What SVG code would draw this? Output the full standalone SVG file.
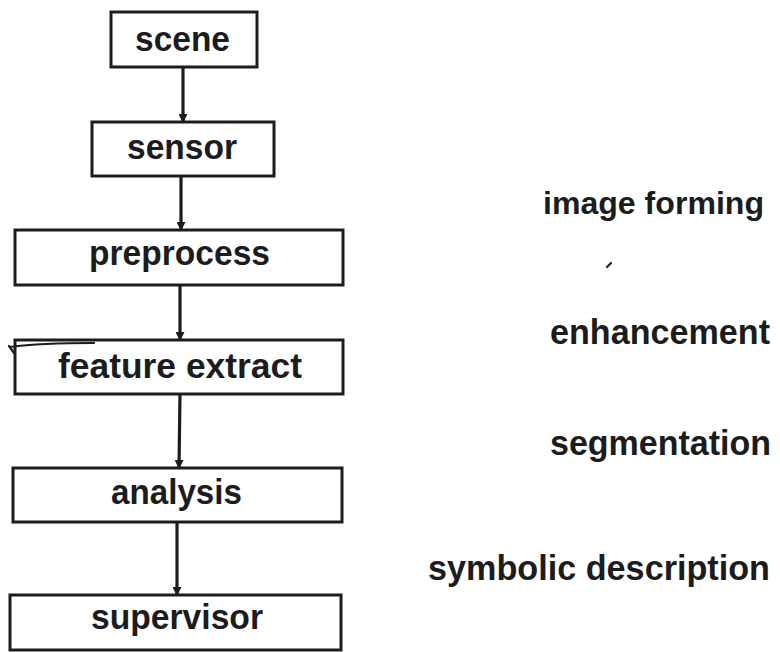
<svg xmlns="http://www.w3.org/2000/svg" width="780" height="652" viewBox="0 0 780 652">
  <style>
    .box { fill: #ffffff; stroke: #1c1c1c; stroke-width: 3; }
    .lbl { font-family: "Liberation Sans", Arial, sans-serif; font-weight: bold; font-size: 35px; fill: #1c1c1c; }
    .stage { font-family: "Liberation Sans", Arial, sans-serif; font-weight: bold; font-size: 35px; fill: #1c1c1c; }
    .flow { stroke: #1c1c1c; stroke-width: 3.2; fill: none; marker-end: url(#arrow); }
    .mark { stroke: #1c1c1c; stroke-width: 2.2; fill: none; stroke-linecap: round; }
  </style>
  <defs>
    <marker id="arrow" markerWidth="9" markerHeight="9" refX="8" refY="4.5" orient="auto" markerUnits="userSpaceOnUse">
      <path d="M0,0 L9,4.5 L0,9 Z" fill="#1c1c1c"/>
    </marker>
  </defs>
  <rect width="780" height="652" fill="#ffffff"/>

  <!-- processing chain -->
  <g id="scene">
    <rect class="box" x="111" y="12" width="146" height="55"/>
    <text class="lbl" x="135" y="51" textLength="95" lengthAdjust="spacingAndGlyphs">scene</text>
  </g>
  <g id="sensor">
    <rect class="box" x="92" y="122" width="182" height="54"/>
    <text class="lbl" x="127" y="159" textLength="110" lengthAdjust="spacingAndGlyphs">sensor</text>
  </g>
  <g id="preprocess">
    <rect class="box" x="15" y="230" width="328" height="55"/>
    <text class="lbl" x="89" y="265" textLength="181" lengthAdjust="spacingAndGlyphs">preprocess</text>
  </g>
  <g id="feature-extract">
    <rect class="box" x="15" y="340" width="328" height="54"/>
    <text class="lbl" x="58" y="378" textLength="244" lengthAdjust="spacingAndGlyphs">feature extract</text>
    <path class="mark" d="M14,353 L9,346 M10,347 Q40,343 94,343"/>
  </g>
  <g id="analysis">
    <rect class="box" x="13" y="468" width="329" height="54"/>
    <text class="lbl" x="111" y="504" textLength="131" lengthAdjust="spacingAndGlyphs">analysis</text>
  </g>
  <g id="supervisor">
    <rect class="box" x="10" y="595" width="331" height="55"/>
    <text class="lbl" x="91" y="629" textLength="172" lengthAdjust="spacingAndGlyphs">supervisor</text>
  </g>

  <!-- stage names -->
  <g id="stages">
    <text class="stage" x="543" y="214" font-size="32" textLength="221" lengthAdjust="spacingAndGlyphs" style="font-size:32px">image forming</text>
    <text class="stage" x="550" y="344" textLength="220" lengthAdjust="spacingAndGlyphs">enhancement</text>
    <text class="stage" x="550" y="455" textLength="221" lengthAdjust="spacingAndGlyphs">segmentation</text>
    <text class="stage" x="428" y="580" textLength="342" lengthAdjust="spacingAndGlyphs">symbolic description</text>
    <path class="mark" d="M607,267 L611,263"/>
  </g>

  <!-- connectors -->
  <g id="connectors">
    <line class="flow" x1="183" y1="67" x2="183" y2="122"/>
    <line class="flow" x1="181" y1="176" x2="181" y2="230"/>
    <line class="flow" x1="180" y1="285" x2="180" y2="340"/>
    <line class="flow" x1="180" y1="394" x2="179" y2="468"/>
    <line class="flow" x1="177" y1="522" x2="177" y2="595"/>
  </g>
</svg>
